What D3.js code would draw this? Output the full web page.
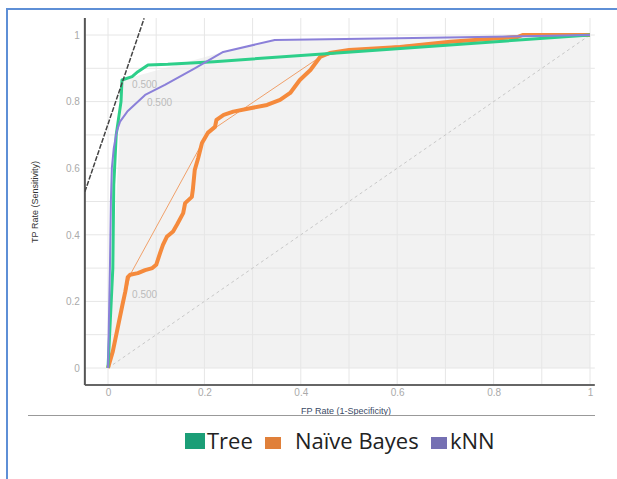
<!DOCTYPE html>
<html>
<head>
<meta charset="utf-8">
<script src="https://cdn.jsdelivr.net/npm/d3@7"></script>
<style>
  body { margin: 0; background: #fff; }
  svg { display: block; font-family: "Liberation Sans", Arial, sans-serif; }
</style>
</head>
<body>
<div id="chart-area"></div>
<script>
const width = 617;
const height = 479;

// ROC points [FP rate, TP rate]
const treeRoc = [[0,0],[0.010,0.30],[0.012,0.55],[0.017,0.70],[0.027,0.80],[0.029,0.865],
    [0.050,0.875],[0.062,0.89],[0.083,0.91],[0.124,0.912],[0.22,0.92],[0.475,0.946],[1,1]];
const knnRoc = [[0,0],[0.004,0.30],[0.006,0.50],[0.008,0.60],[0.012,0.66],[0.018,0.71],
    [0.025,0.74],[0.040,0.77],[0.077,0.82],[0.118,0.85],[0.18,0.90],[0.239,0.949],
    [0.346,0.985],[0.60,0.99],[1,1]];
const nbRoc = [[0,0],[0.010,0.05],[0.020,0.12],[0.030,0.19],[0.036,0.23],[0.041,0.273],[0.046,0.28],
    [0.062,0.285],[0.077,0.294],[0.092,0.30],[0.100,0.31],[0.108,0.345],[0.114,0.37],
    [0.122,0.394],[0.135,0.41],[0.143,0.43],[0.156,0.465],[0.160,0.495],[0.174,0.514],
    [0.176,0.535],[0.180,0.595],[0.187,0.63],[0.195,0.676],[0.207,0.706],[0.222,0.724],
    [0.225,0.745],[0.24,0.76],[0.26,0.77],[0.295,0.78],[0.33,0.79],[0.357,0.805],
    [0.378,0.826],[0.398,0.865],[0.42,0.895],[0.44,0.934],[0.46,0.946],[0.50,0.955],
    [0.606,0.964],[0.71,0.98],[0.85,0.994],[0.86,1.0],[1,1]];
const nbHull = [[0,0],[0.046,0.28],[0.207,0.706],[0.44,0.934],[0.50,0.955],[0.71,0.98],[0.86,1.0],[1,1]];
const allHull = [[0,0],[0.029,0.865],[0.239,0.949],[0.346,0.985],[1,1]];
const isoLine = [[-0.048,0.529],[0.075,1.05]];
const thresholdLabels = [
    {x: 0.05, y: 0.84, text: "0.500"},
    {x: 0.081, y: 0.786, text: "0.500"},
    {x: 0.05, y: 0.21, text: "0.500"}
];

const xTicks = [0, 0.2, 0.4, 0.6, 0.8, 1];
const yTicks = [0, 0.2, 0.4, 0.6, 0.8, 1];
const gridTicks = [0, 0.1, 0.2, 0.3, 0.4, 0.5, 0.6, 0.7, 0.8, 0.9, 1];
const xExtent = [-0.048, 1.01];
const yExtent = [-0.051, 1.051];

const legendNames = ["Tree", "Naïve Bayes", "kNN"];
const legendColors = ["#1b9e77", "#e0803a", "#7570b3"];

const svg = d3.select("#chart-area")
    .append("svg")
    .attr("width", width)
    .attr("height", height);

const x = d3.scaleLinear().domain([0, 1]).range([108, 590]);
const y = d3.scaleLinear().domain([0, 1]).range([368, 35]);

// outer frame
svg.append("path")
    .attr("d", "M7,479 V9 H617")
    .attr("fill", "none")
    .attr("stroke", "#5e8fd6")
    .attr("stroke-width", 2);

svg.append("defs").append("clipPath").attr("id", "plot-clip")
    .append("rect")
    .attr("x", x(xExtent[0])).attr("y", y(yExtent[1]))
    .attr("width", x(xExtent[1]) - x(xExtent[0]))
    .attr("height", y(yExtent[0]) - y(yExtent[1]));

// shaded convex hull
const area = d3.area().x(d => x(d[0])).y0(y(0)).y1(d => y(d[1]));
svg.append("path").datum(allHull)
    .attr("d", area)
    .attr("fill", "#f2f2f2");

// grid
svg.append("g").selectAll("line").data(gridTicks).join("line")
    .attr("x1", d => x(d)).attr("x2", d => x(d))
    .attr("y1", y(yExtent[1])).attr("y2", y(yExtent[0]))
    .attr("stroke", "#e6e6e6");
svg.append("g").selectAll("line").data(gridTicks).join("line")
    .attr("y1", d => y(d)).attr("y2", d => y(d))
    .attr("x1", x(xExtent[0])).attr("x2", x(xExtent[1]))
    .attr("stroke", "#e6e6e6");

// axes
const xAxis = svg.append("g")
    .attr("transform", `translate(0,${y(yExtent[0])})`)
    .call(d3.axisBottom(x).tickValues(xTicks).tickFormat(d3.format("~g")).tickSize(0).tickPadding(4));
const yAxis = svg.append("g")
    .attr("transform", `translate(${x(xExtent[0])},0)`)
    .call(d3.axisLeft(y).tickValues(yTicks).tickFormat(d3.format("~g")).tickSize(0).tickPadding(5));
[xAxis, yAxis].forEach(a => {
    a.select(".domain").remove();
    a.selectAll("text").attr("fill", "#aaa").style("font-size", "10px");
});

svg.append("line")
    .attr("x1", x(xExtent[0])).attr("x2", x(xExtent[1]))
    .attr("y1", y(yExtent[0])).attr("y2", y(yExtent[0]))
    .attr("stroke", "#666").attr("stroke-width", 2);
svg.append("line")
    .attr("x1", x(xExtent[0])).attr("x2", x(xExtent[0]))
    .attr("y1", y(yExtent[1])).attr("y2", y(yExtent[0]))
    .attr("stroke", "#555").attr("stroke-width", 2);

// axis titles
svg.append("text")
    .attr("transform", "translate(38,202) rotate(-90)")
    .attr("text-anchor", "middle")
    .style("font-size", "9px")
    .attr("fill", "#333")
    .text("TP Rate (Sensitivity)");
svg.append("text")
    .attr("x", 346).attr("y", 414)
    .attr("text-anchor", "middle")
    .style("font-size", "9px")
    .attr("fill", "#3a4a66")
    .text("FP Rate (1-Specificity)");
svg.append("line")
    .attr("x1", 28).attr("x2", 595)
    .attr("y1", 415.5).attr("y2", 415.5)
    .attr("stroke", "#999");

// diagonal
svg.append("line")
    .attr("x1", x(0)).attr("y1", y(0)).attr("x2", x(1)).attr("y2", y(1))
    .attr("stroke", "#c8c8c8").attr("stroke-dasharray", "3,3");

// threshold labels
svg.append("g").selectAll("text").data(thresholdLabels).join("text")
    .attr("x", d => x(d.x)).attr("y", d => y(d.y))
    .attr("fill", "#bbb")
    .style("font-size", "10px")
    .text(d => d.text);

const line = d3.line().x(d => x(d[0])).y(d => y(d[1]));

svg.append("path").datum(nbHull)
    .attr("d", line).attr("fill", "none")
    .attr("stroke", "#f0a06a").attr("stroke-width", 1);
svg.append("path").datum(nbRoc)
    .attr("d", line).attr("fill", "none")
    .attr("stroke", "#f58a3c").attr("stroke-width", 4)
    .attr("stroke-linejoin", "round");
svg.append("path").datum(treeRoc)
    .attr("d", line).attr("fill", "none")
    .attr("stroke", "#2dcf8a").attr("stroke-width", 3)
    .attr("stroke-linejoin", "round");
svg.append("path").datum(knnRoc)
    .attr("d", line).attr("fill", "none")
    .attr("stroke", "#8b80d9").attr("stroke-width", 2)
    .attr("stroke-linejoin", "round");

// iso-performance line
svg.append("path").datum(isoLine)
    .attr("clip-path", "url(#plot-clip)")
    .attr("d", line).attr("fill", "none")
    .attr("stroke", "#444").attr("stroke-width", 1.5)
    .attr("stroke-dasharray", "5,1.5");

// legend
const legendX = [185, 265, 431];
const legend = svg.append("g").selectAll("g").data(legendNames).join("g")
    .attr("transform", (d, i) => `translate(${legendX[i]},0)`);
legend.append("rect")
    .attr("x", 0).attr("y", (d, i) => i === 0 ? 433 : 437)
    .attr("width", (d, i) => i === 0 ? 20 : 16)
    .attr("height", (d, i) => i === 0 ? 16 : 12)
    .attr("fill", (d, i) => legendColors[i]);
legend.append("text")
    .attr("x", (d, i) => i === 1 ? 30 : (i === 0 ? 22 : 19))
    .attr("y", 449)
    .attr("fill", "#222")
    .style("font-family", "'Open Sans', sans-serif")
    .style("font-size", "22px")
    .text(d => d);
</script>
</body>
</html>
